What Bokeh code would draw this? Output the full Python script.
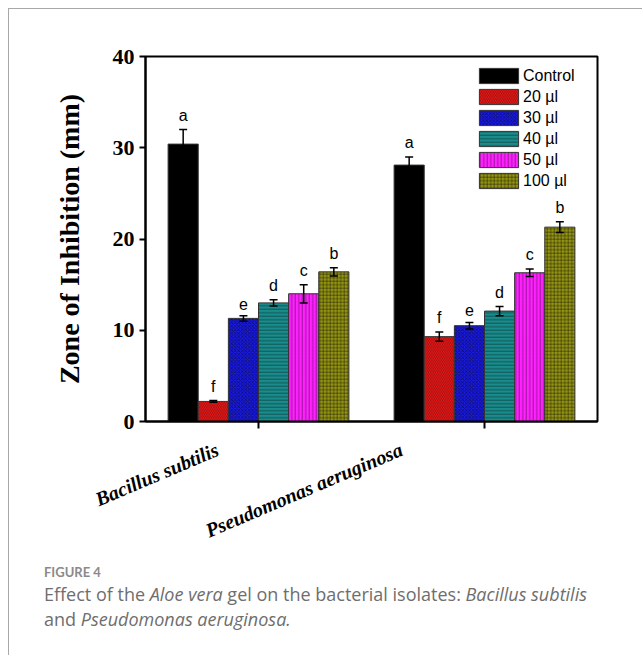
import math
from bokeh.plotting import figure
from bokeh.models import (Whisker, TeeHead, ColumnDataSource, Div, FixedTicker,
                          Range1d, LinearAxis, CustomJSTickFormatter)
from bokeh.layouts import column
from bokeh.embed import file_html
from bokeh.resources import INLINE
from bokeh.core.properties import value

# ---------------- data ----------------
groups = ["Bacillus subtilis", "Pseudomonas aeruginosa"]
series = ["Control", "20 µl", "30 µl", "40 µl", "50 µl", "100 µl"]
control = [30.4, 28.1]
ul20 = [2.2, 9.3]
ul30 = [11.3, 10.5]
ul40 = [13.0, 12.1]
ul50 = [14.0, 16.3]
ul100 = [16.4, 21.3]
err_control = [1.6, 0.9]
err_20 = [0.1, 0.5]
err_30 = [0.3, 0.35]
err_40 = [0.35, 0.5]
err_50 = [1.0, 0.4]
err_100 = [0.45, 0.6]
letters_bs = ["a", "f", "e", "d", "c", "b"]
letters_pa = ["a", "f", "e", "d", "c", "b"]
y_ticks = [0, 10, 20, 30, 40]
y_label = "Zone of Inhibition (mm)"

values = [control, ul20, ul30, ul40, ul50, ul100]
errors = [err_control, err_20, err_30, err_40, err_50, err_100]

# ---------------- styles ----------------
colors = ["#000000", "#FF1A1A", "#1A1AE0", "#1A8C8C", "#FF22FF", "#949414"]
hatches = [None, "\\", "x", "-", "|", "+"]

FW, FH = 452, 365
group_pos = [0, 1]
bar_w = 0.8 / len(series)
px_per_y = FH / 40.0
px_per_x = FW / 2.0

p = figure(frame_width=FW, frame_height=FH,
           x_range=Range1d(-0.5, 1.5), y_range=Range1d(0, 40),
           output_backend="svg", toolbar_location=None,
           min_border_left=136, min_border_right=44,
           min_border_top=47, min_border_bottom=130)
p.background_fill_color = None
p.border_fill_color = None
p.xgrid.visible = False
p.ygrid.visible = False
p.outline_line_color = "black"
p.outline_line_width = 2

for j, (name, vals, errs) in enumerate(zip(series, values, errors)):
    xs = [g + (j - 2.5) * bar_w for g in group_pos]
    src = ColumnDataSource(dict(x=xs, top=vals,
                                upper=[v + e for v, e in zip(vals, errs)],
                                lower=[v - e for v, e in zip(vals, errs)]))
    kw = {}
    if hatches[j]:
        kw = dict(hatch_pattern=hatches[j], hatch_color="black",
                  hatch_alpha=0.5, hatch_scale=3.5, hatch_weight=0.8)
    p.vbar(x="x", top="top", width=bar_w, bottom=0, source=src,
           fill_color=colors[j], line_color="#333333", line_width=1,
           legend_label=name, **kw)
    w = Whisker(source=src, base="x", upper="upper", lower="lower",
                line_color="black", line_width=1.5, level="overlay",
                upper_head=TeeHead(size=8, line_width=1.5, line_color="black"),
                lower_head=TeeHead(size=8, line_width=1.5, line_color="black"))
    p.add_layout(w)
    lets = [letters_bs[j], letters_pa[j]]
    tsrc = ColumnDataSource(dict(x=xs, y=[v + e + 6 / px_per_y for v, e in zip(vals, errs)], t=lets))
    p.text(x="x", y="y", text="t", source=tsrc, text_align="center",
           text_baseline="bottom", text_font=value("Liberation Sans"),
           text_font_size="16px", text_color="black")

# y axis
p.yaxis.ticker = FixedTicker(ticks=y_ticks)
p.yaxis.minor_tick_line_color = None
p.yaxis.major_tick_out = 6
p.yaxis.major_tick_in = 0
p.yaxis.major_tick_line_width = 2
p.yaxis.axis_line_width = 2
p.yaxis.major_label_text_font = "Liberation Serif"
p.yaxis.major_label_text_font_style = "bold"
p.yaxis.major_label_text_font_size = "22px"
p.yaxis.major_label_text_color = "black"
p.yaxis.major_label_standoff = 5
p.yaxis.axis_label = y_label
p.yaxis.axis_label_text_font = "Liberation Serif"
p.yaxis.axis_label_text_font_style = "bold"
p.yaxis.axis_label_text_font_size = "28px"
p.yaxis.axis_label_text_color = "black"
p.yaxis.axis_label_standoff = 25

# x axis (ticks only)
p.xaxis.ticker = FixedTicker(ticks=group_pos)
p.xaxis.formatter = CustomJSTickFormatter(code="return ''")
p.xaxis.minor_tick_line_color = None
p.xaxis.major_tick_out = 7
p.xaxis.major_tick_in = 0
p.xaxis.major_tick_line_width = 2
p.xaxis.axis_line_width = 2
p.xaxis.major_label_standoff = 0

# rotated category labels on a second, invisible axis
label_dx = [-41, -83]  # px offset of label anchor from the group centre
lab_ticks = [g + dx / px_per_x for g, dx in zip(group_pos, label_dx)]
ax2 = LinearAxis(ticker=FixedTicker(ticks=lab_ticks),
                 formatter=CustomJSTickFormatter(args=dict(labels=groups), code="return labels[index]"),
                 axis_line_color=None, major_tick_line_color=None, minor_tick_line_color=None,
                 major_label_orientation=math.radians(23), major_label_standoff=14,
                 major_label_text_font="Liberation Serif", major_label_text_font_style="bold italic",
                 major_label_text_font_size="20px", major_label_text_color="black")
p.add_layout(ax2, "below")

# legend
lg = p.legend[0]
lg.location = "top_right"
lg.margin = 10
lg.padding = 0
lg.border_line_color = None
lg.background_fill_alpha = 0
lg.glyph_width = 49
lg.glyph_height = 19
lg.label_height = 19
lg.label_width = 64
lg.label_standoff = 0
lg.spacing = 2
lg.label_text_font = "Liberation Sans"
lg.label_text_font_size = "16px"
lg.label_text_color = "black"

caption = Div(
    text=('<div style="font-family: \'Open Sans\', sans-serif; color:#6e6e6e; padding-left:30px; white-space:nowrap;">'
          '<div style="font-family: Lato, sans-serif; font-size:13px; font-weight:bold; color:#8a8a8a; margin-top:4px;">FIGURE 4</div>'
          '<div style="font-size:18px; line-height:25px; margin-top:0px;">Effect of the <i>Aloe vera</i> gel on the bacterial isolates: '
          '<i>Bacillus subtilis</i><br>and <i>Pseudomonas aeruginosa.</i></div></div>'),
    width=633, height=100)

layout = column(p, caption, spacing=0,
                styles={"margin-left": "8px", "margin-top": "8px",
                        "border-left": "1.5px solid #a8a8a8", "border-top": "1.5px solid #a8a8a8"})

open("out.html", "w").write(file_html(layout, INLINE))
